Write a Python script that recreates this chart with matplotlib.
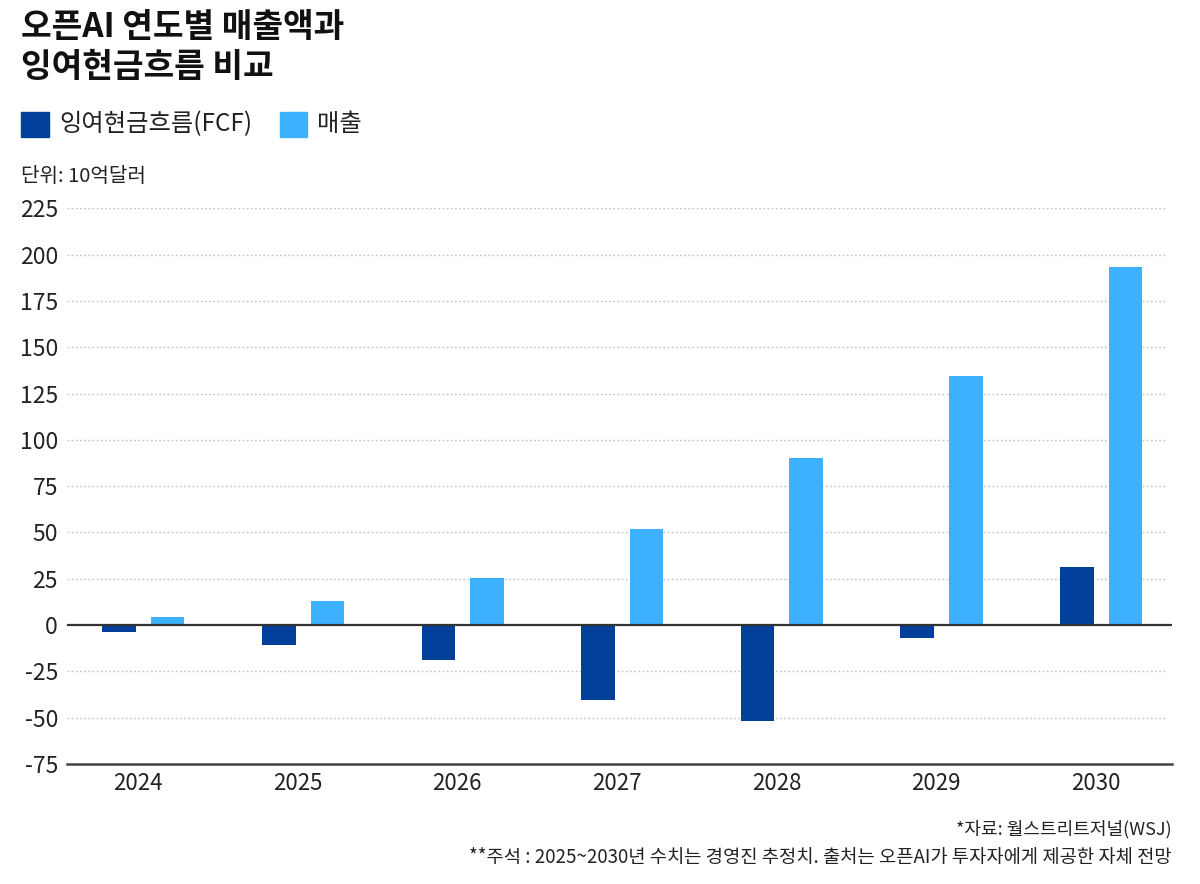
import matplotlib
matplotlib.use("Agg")
import matplotlib.pyplot as plt
from matplotlib import font_manager
from matplotlib.patches import Rectangle
import numpy as np

# ---- data ----
years = ["2024", "2025", "2026", "2027", "2028", "2029", "2030"]
fcf = [-3.6, -10.8, -18.9, -40.3, -52.0, -7.0, 31.5]
revenue = [4.1, 13.1, 25.6, 52.0, 90.3, 134.7, 193.5]
yticks = [-75, -50, -25, 0, 25, 50, 75, 100, 125, 150, 175, 200, 225]

title = "오픈AI 연도별 매출액과\n잉여현금흐름 비교"
legend_labels = ["잉여현금흐름(FCF)", "매출"]
unit_label = "단위: 10억달러"
source_note = "*자료: 월스트리트저널(WSJ)"
foot_note = "**주석 : 2025~2030년 수치는 경영진 추정치. 출처는 오픈AI가 투자자에게 제공한 자체 전망"

C_FCF = "#01409a"
C_REV = "#3cb1ff"

KR = "Noto Sans CJK KR"
plt.rcParams["font.family"] = [KR, "DejaVu Sans"]

W, H = 1200, 884
fig = plt.figure(figsize=(W / 100, H / 100), dpi=100)

def fx(x):
    return x / W

def fy(y):
    return 1 - y / H

ax = fig.add_axes([fx(67), fy(764), fx(1172 - 67), (764 - 208.3) / H])

x = np.arange(len(years))
bw = 0.21
off = 0.152
ax.bar(x - off, fcf, width=bw, color=C_FCF, zorder=3)
ax.bar(x + off, revenue, width=bw, color=C_REV, zorder=3)

ax.set_xlim(-0.479, 6.444)
ax.set_ylim(-75, 225)

for yv in yticks:
    if yv in (0, -75):
        continue
    ax.axhline(yv, xmin=0, xmax=0.9955, color="#c4c4c4", lw=1.0,
               ls=(0, (1.3, 1.7)), zorder=1)
ax.axhline(0, color="#333333", lw=1.6, zorder=4)

for s in ["top", "right", "left"]:
    ax.spines[s].set_visible(False)
ax.spines["bottom"].set_color("#444444")
ax.spines["bottom"].set_linewidth(1.8)

ax.set_yticks(yticks)
ax.set_yticklabels([str(v) for v in yticks])
ax.set_xticks(x - 0.035)
ax.set_xticklabels(years)
ax.tick_params(axis="both", length=0, labelcolor="#222222")
ax.tick_params(axis="y", pad=6.5, labelsize=16.5)
ax.tick_params(axis="x", pad=6, labelsize=16)

# title
fig.text(fx(21), fy(27), title.split("\n")[0], fontsize=24, fontweight="heavy",
         color="#111111", va="center", ha="left")
fig.text(fx(21), fy(68), title.split("\n")[1], fontsize=24, fontweight="heavy",
         color="#111111", va="center", ha="left")

# legend
fig.patches.append(Rectangle((fx(20.7), fy(136.7)), fx(28.6), 25 / H,
                             transform=fig.transFigure, color=C_FCF))
fig.text(fx(59), fy(124), legend_labels[0], fontsize=17.5, color="#222222",
         va="center", ha="left")
fig.patches.append(Rectangle((fx(280), fy(136.7)), fx(27.3), 25 / H,
                             transform=fig.transFigure, color=C_REV))
fig.text(fx(317), fy(124), legend_labels[1], fontsize=17.5, color="#222222",
         va="center", ha="left")

# unit
fig.text(fx(21), fy(176), unit_label, fontsize=14.5, color="#222222",
         va="center", ha="left")

# notes
fig.text(fx(1172), fy(829), source_note, fontsize=13, color="#222222",
         va="center", ha="right")
fig.text(fx(1172), fy(858), foot_note, fontsize=13.5, color="#222222",
         va="center", ha="right")

fig.savefig("out.png", dpi=100, facecolor="white")
